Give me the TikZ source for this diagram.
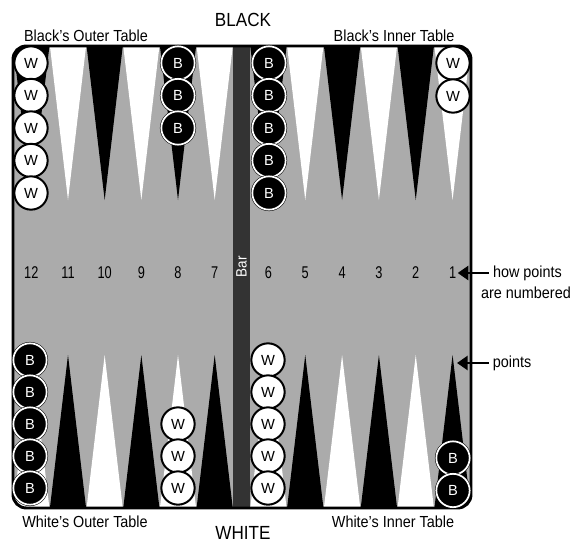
\documentclass[tikz,border=0pt]{standalone}
\usepackage{fontspec}
\setmainfont{Liberation Sans}[FakeStretch=0.9]
\newfontfamily\numfont{Liberation Sans}[FakeStretch=0.75]
\newfontfamily\ckfont{Liberation Sans}
\usetikzlibrary{arrows.meta}
\definecolor{boardgray}{RGB}{171,171,171}
\definecolor{bargray}{RGB}{51,51,51}
\tikzset{
 wck/.style={circle,draw=black,fill=white,line width=1.5pt,minimum size=25pt,inner sep=0pt,font=\ckfont\fontsize{11}{12}\selectfont},
 bck/.style={circle,draw=black,double=white,double distance=1.3pt,line width=0.4pt,fill=black,text=white,minimum size=25pt,inner sep=0pt,font=\ckfont\fontsize{11}{12}\selectfont},
 num/.style={inner sep=1pt,font=\numfont\fontsize{12.75}{14}\selectfont},
 side/.style={inner sep=2pt,font=\fontsize{14.25}{16}\selectfont},
 tablbl/.style={inner sep=2pt,font=\fontsize{12}{14}\selectfont},
 note/.style={inner sep=3pt,font=\fontsize{12}{14}\selectfont},
 arr/.style={line width=2.2pt,-{Triangle[length=8pt,width=10.5pt]}}
}
\begin{document}
\begin{tikzpicture}[x=0.75pt,y=-0.75pt]
 \useasboundingbox (0,0) rectangle (574,542);
 % board, points and bar
 \begin{scope}
  \clip[rounded corners=10pt] (13,46) rectangle (471,508);
  \fill[boardgray] (13,46) rectangle (471,508);
  \foreach \i/\c/\d in {0/black/white,1/white/black,2/black/white,3/white/black,4/black/white,5/white/black}{
   \fill[\c] (13+36.67*\i,44) -- ++(18.33,156) -- ++(18.33,-156) -- cycle;
   \fill[\d] (13+36.67*\i,510) -- ++(18.33,-155) -- ++(18.33,155) -- cycle;
   \fill[\c] (250+36.83*\i,44) -- ++(18.42,156) -- ++(18.42,-156) -- cycle;
   \fill[\d] (250+36.83*\i,510) -- ++(18.42,-155) -- ++(18.42,155) -- cycle;
  }
  \fill[bargray] (233,40) rectangle (250,512);
 \end{scope}
 \draw[line width=2.2pt,rounded corners=10pt] (13,46) rectangle (471,508);
 \node[rotate=90,text=white,inner sep=0pt,font=\fontsize{11.25}{13}\selectfont] (bar) at (241.5,267) {Bar};
 % point numbers
 \foreach \i in {0,...,5}{
  \pgfmathtruncatemacro\nl{12-\i}
  \pgfmathtruncatemacro\nr{6-\i}
  \node[num] (n\nl) at (31.33+36.67*\i,273) {\nl};
  \node[num] (n\nr) at (268.4+36.83*\i,273) {\nr};
 }
 % checkers
 \foreach \k in {0,...,4}{
  \node[wck] (wa\k) at (31,63+32.5*\k) {W};
  \node[bck] (ba\k) at (269,63+32.5*\k) {B};
  \node[bck] (bb\k) at (30,360+32*\k) {B};
  \node[wck] (wb\k) at (268,360+32*\k) {W};
 }
 \foreach \k in {0,1,2}{
  \node[bck] (bc\k) at (178,63+32.5*\k) {B};
  \node[wck] (wc\k) at (178,424+32*\k) {W};
 }
 \foreach \k in {0,1}{
  \node[wck] (wd\k) at (453,63+33*\k) {W};
  \node[bck] (bd\k) at (453,458+32.5*\k) {B};
 }
 % labels
 \node[side] (black) at (243,20) {BLACK};
 \node[side] (white) at (243,533) {WHITE};
 \node[tablbl] (bot) at (86,36) {Black's Outer Table};
 \node[tablbl] (bit) at (394,36) {Black's Inner Table};
 \node[tablbl] (wot) at (85,522) {White's Outer Table};
 \node[tablbl] (wit) at (393,522) {White's Inner Table};
 \node[note] (how) at (527.5,273) {how points};
 \node[note] (are) at (526,293) {are numbered};
 \node[note] (pts) at (512,363) {points};
 \coordinate (pt1) at (457,363);
 \draw[arr] (how.west) -- (n1.east);
 \draw[arr] (pts.west) -- (pt1);
\end{tikzpicture}
\end{document}
